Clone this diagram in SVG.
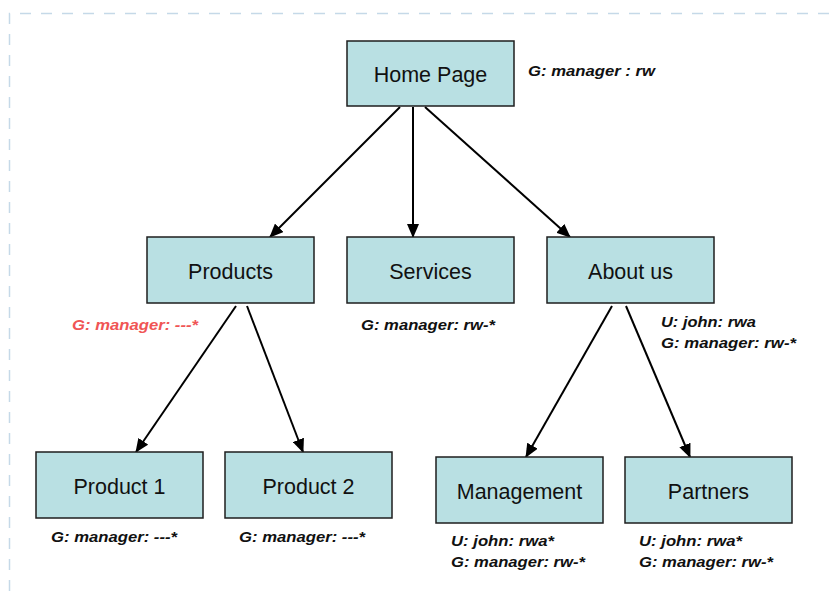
<svg xmlns="http://www.w3.org/2000/svg" width="832" height="591" viewBox="0 0 832 591">
<style>
.node rect{fill:#b9e0e3;stroke:#1e1e1e;stroke-width:1.5}
.node text{font-family:"Liberation Sans",Arial,sans-serif;font-size:21.5px;fill:#111;text-anchor:middle}
.ann{font-family:"Liberation Sans",Arial,sans-serif;font-size:15px;font-weight:bold;font-style:italic;fill:#111}
.red{fill:#f05555}
.conn line{stroke:#000;stroke-width:2;marker-end:url(#ah)}
.frame{stroke:#c5d9e8;stroke-width:1.5;fill:none;stroke-dasharray:11 10}
</style>
<defs>
<marker id="ah" markerWidth="14" markerHeight="12" viewBox="0 0 14 12" refX="13" refY="6" orient="auto" markerUnits="userSpaceOnUse">
<path d="M0,0 L14,6 L0,12 Z" fill="#000"/>
</marker>
</defs>
<rect width="832" height="591" fill="#fff"/>
<path class="frame" d="M9.5,591 V13.5 H832"/>
<g id="connectors" class="conn">
<line x1="400" y1="107" x2="270" y2="237"/>
<line x1="413" y1="107" x2="413" y2="237"/>
<line x1="425" y1="107" x2="570" y2="237"/>
<line x1="236" y1="306" x2="136" y2="452"/>
<line x1="247" y1="306" x2="303" y2="452"/>
<line x1="612" y1="306" x2="526" y2="457"/>
<line x1="626" y1="306" x2="690" y2="457"/>
</g>
<g id="home" class="node"><rect x="347" y="41" width="167" height="65"/><text x="430.5" y="82">Home Page</text></g>
<g id="products" class="node"><rect x="147" y="237" width="167" height="66"/><text x="230.5" y="279">Products</text></g>
<g id="services" class="node"><rect x="347" y="237" width="167" height="66"/><text x="430.5" y="279">Services</text></g>
<g id="about" class="node"><rect x="547" y="237" width="167" height="66"/><text x="630.5" y="279">About us</text></g>
<g id="product1" class="node"><rect x="36" y="452" width="167" height="66"/><text x="119.5" y="494">Product 1</text></g>
<g id="product2" class="node"><rect x="225" y="452" width="167" height="66"/><text x="308.5" y="494">Product 2</text></g>
<g id="management" class="node"><rect x="436" y="457" width="167" height="66"/><text x="519.5" y="499">Management</text></g>
<g id="partners" class="node"><rect x="625" y="457" width="167" height="66"/><text x="708.5" y="499">Partners</text></g>
<g id="annotations">
<text class="ann" x="528" y="76" textLength="127" lengthAdjust="spacingAndGlyphs">G: manager : rw</text>
<text class="ann red" x="72" y="330" textLength="126" lengthAdjust="spacingAndGlyphs">G: manager: ---*</text>
<text class="ann" x="361" y="330" textLength="134" lengthAdjust="spacingAndGlyphs">G: manager: rw-*</text>
<text class="ann" x="661" y="327" textLength="95" lengthAdjust="spacingAndGlyphs">U: john: rwa</text>
<text class="ann" x="661" y="348" textLength="135" lengthAdjust="spacingAndGlyphs">G: manager: rw-*</text>
<text class="ann" x="51" y="542" textLength="126" lengthAdjust="spacingAndGlyphs">G: manager: ---*</text>
<text class="ann" x="239" y="542" textLength="126" lengthAdjust="spacingAndGlyphs">G: manager: ---*</text>
<text class="ann" x="451" y="546" textLength="103" lengthAdjust="spacingAndGlyphs">U: john: rwa*</text>
<text class="ann" x="451" y="567" textLength="134" lengthAdjust="spacingAndGlyphs">G: manager: rw-*</text>
<text class="ann" x="639" y="546" textLength="103" lengthAdjust="spacingAndGlyphs">U: john: rwa*</text>
<text class="ann" x="639" y="567" textLength="134" lengthAdjust="spacingAndGlyphs">G: manager: rw-*</text>
</g>
</svg>
